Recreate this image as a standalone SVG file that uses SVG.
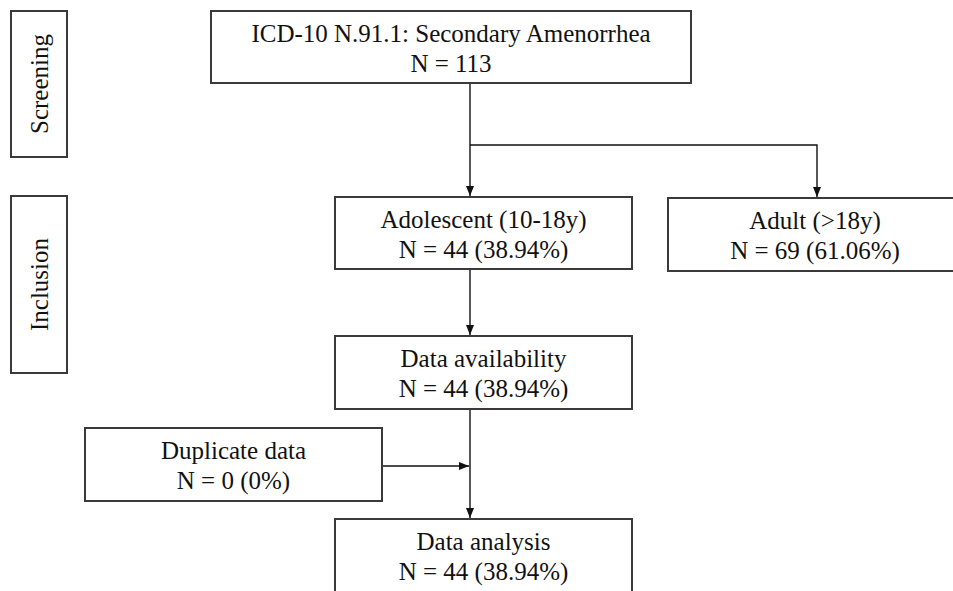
<svg xmlns="http://www.w3.org/2000/svg" width="953" height="591" viewBox="0 0 953 591">
<style>
.box{fill:#fff;stroke:#3a3a3a;stroke-width:2}
.t{font-family:"Liberation Serif","Times New Roman",serif;font-size:25px;fill:#111;text-anchor:middle}
.c{fill:none;stroke:#111;stroke-width:1.4}
</style>
<defs>
<marker id="ah" markerWidth="10" markerHeight="10" viewBox="0 0 10 10" refX="10" refY="5" orient="auto" markerUnits="userSpaceOnUse">
<path d="M0,1 L10,5 L0,9 Z" fill="#111"/>
</marker>
</defs>
<rect width="953" height="591" fill="#fff"/>
<g id="screening">
<rect class="box" x="11" y="11" width="56" height="146"/>
<text class="t" transform="translate(48,84) rotate(-90)">Screening</text>
</g>
<g id="inclusion">
<rect class="box" x="11" y="196" width="56" height="177"/>
<text class="t" transform="translate(48,284.5) rotate(-90)">Inclusion</text>
</g>
<g id="connectors">
<path class="c" d="M470,83 V196" marker-end="url(#ah)"/>
<path class="c" d="M470,145 H817 V197" marker-end="url(#ah)"/>
<path class="c" d="M470,269 V335" marker-end="url(#ah)"/>
<path class="c" d="M470,409 V518" marker-end="url(#ah)"/>
<path class="c" d="M382,466 H469" marker-end="url(#ah)"/>
</g>
<g id="n-total">
<rect class="box" x="211" y="11" width="480" height="72"/>
<text class="t" x="451" y="42">ICD-10 N.91.1: Secondary Amenorrhea</text>
<text class="t" x="451" y="72">N = 113</text>
</g>
<g id="n-adolescent">
<rect class="box" x="335" y="197" width="297" height="72"/>
<text class="t" x="483.5" y="228">Adolescent (10-18y)</text>
<text class="t" x="483.5" y="258">N = 44 (38.94%)</text>
</g>
<g id="n-adult">
<rect class="box" x="668" y="198" width="294" height="73"/>
<text class="t" x="815" y="229">Adult (&gt;18y)</text>
<text class="t" x="815" y="259">N = 69 (61.06%)</text>
</g>
<g id="n-availability">
<rect class="box" x="335" y="336" width="297" height="73"/>
<text class="t" x="483.5" y="367">Data availability</text>
<text class="t" x="483.5" y="397">N = 44 (38.94%)</text>
</g>
<g id="n-duplicate">
<rect class="box" x="85" y="428" width="297" height="73"/>
<text class="t" x="233.5" y="459">Duplicate data</text>
<text class="t" x="233.5" y="489">N = 0 (0%)</text>
</g>
<g id="n-analysis">
<rect class="box" x="335" y="519" width="297" height="73"/>
<text class="t" x="483.5" y="550">Data analysis</text>
<text class="t" x="483.5" y="580">N = 44 (38.94%)</text>
</g>
</svg>
